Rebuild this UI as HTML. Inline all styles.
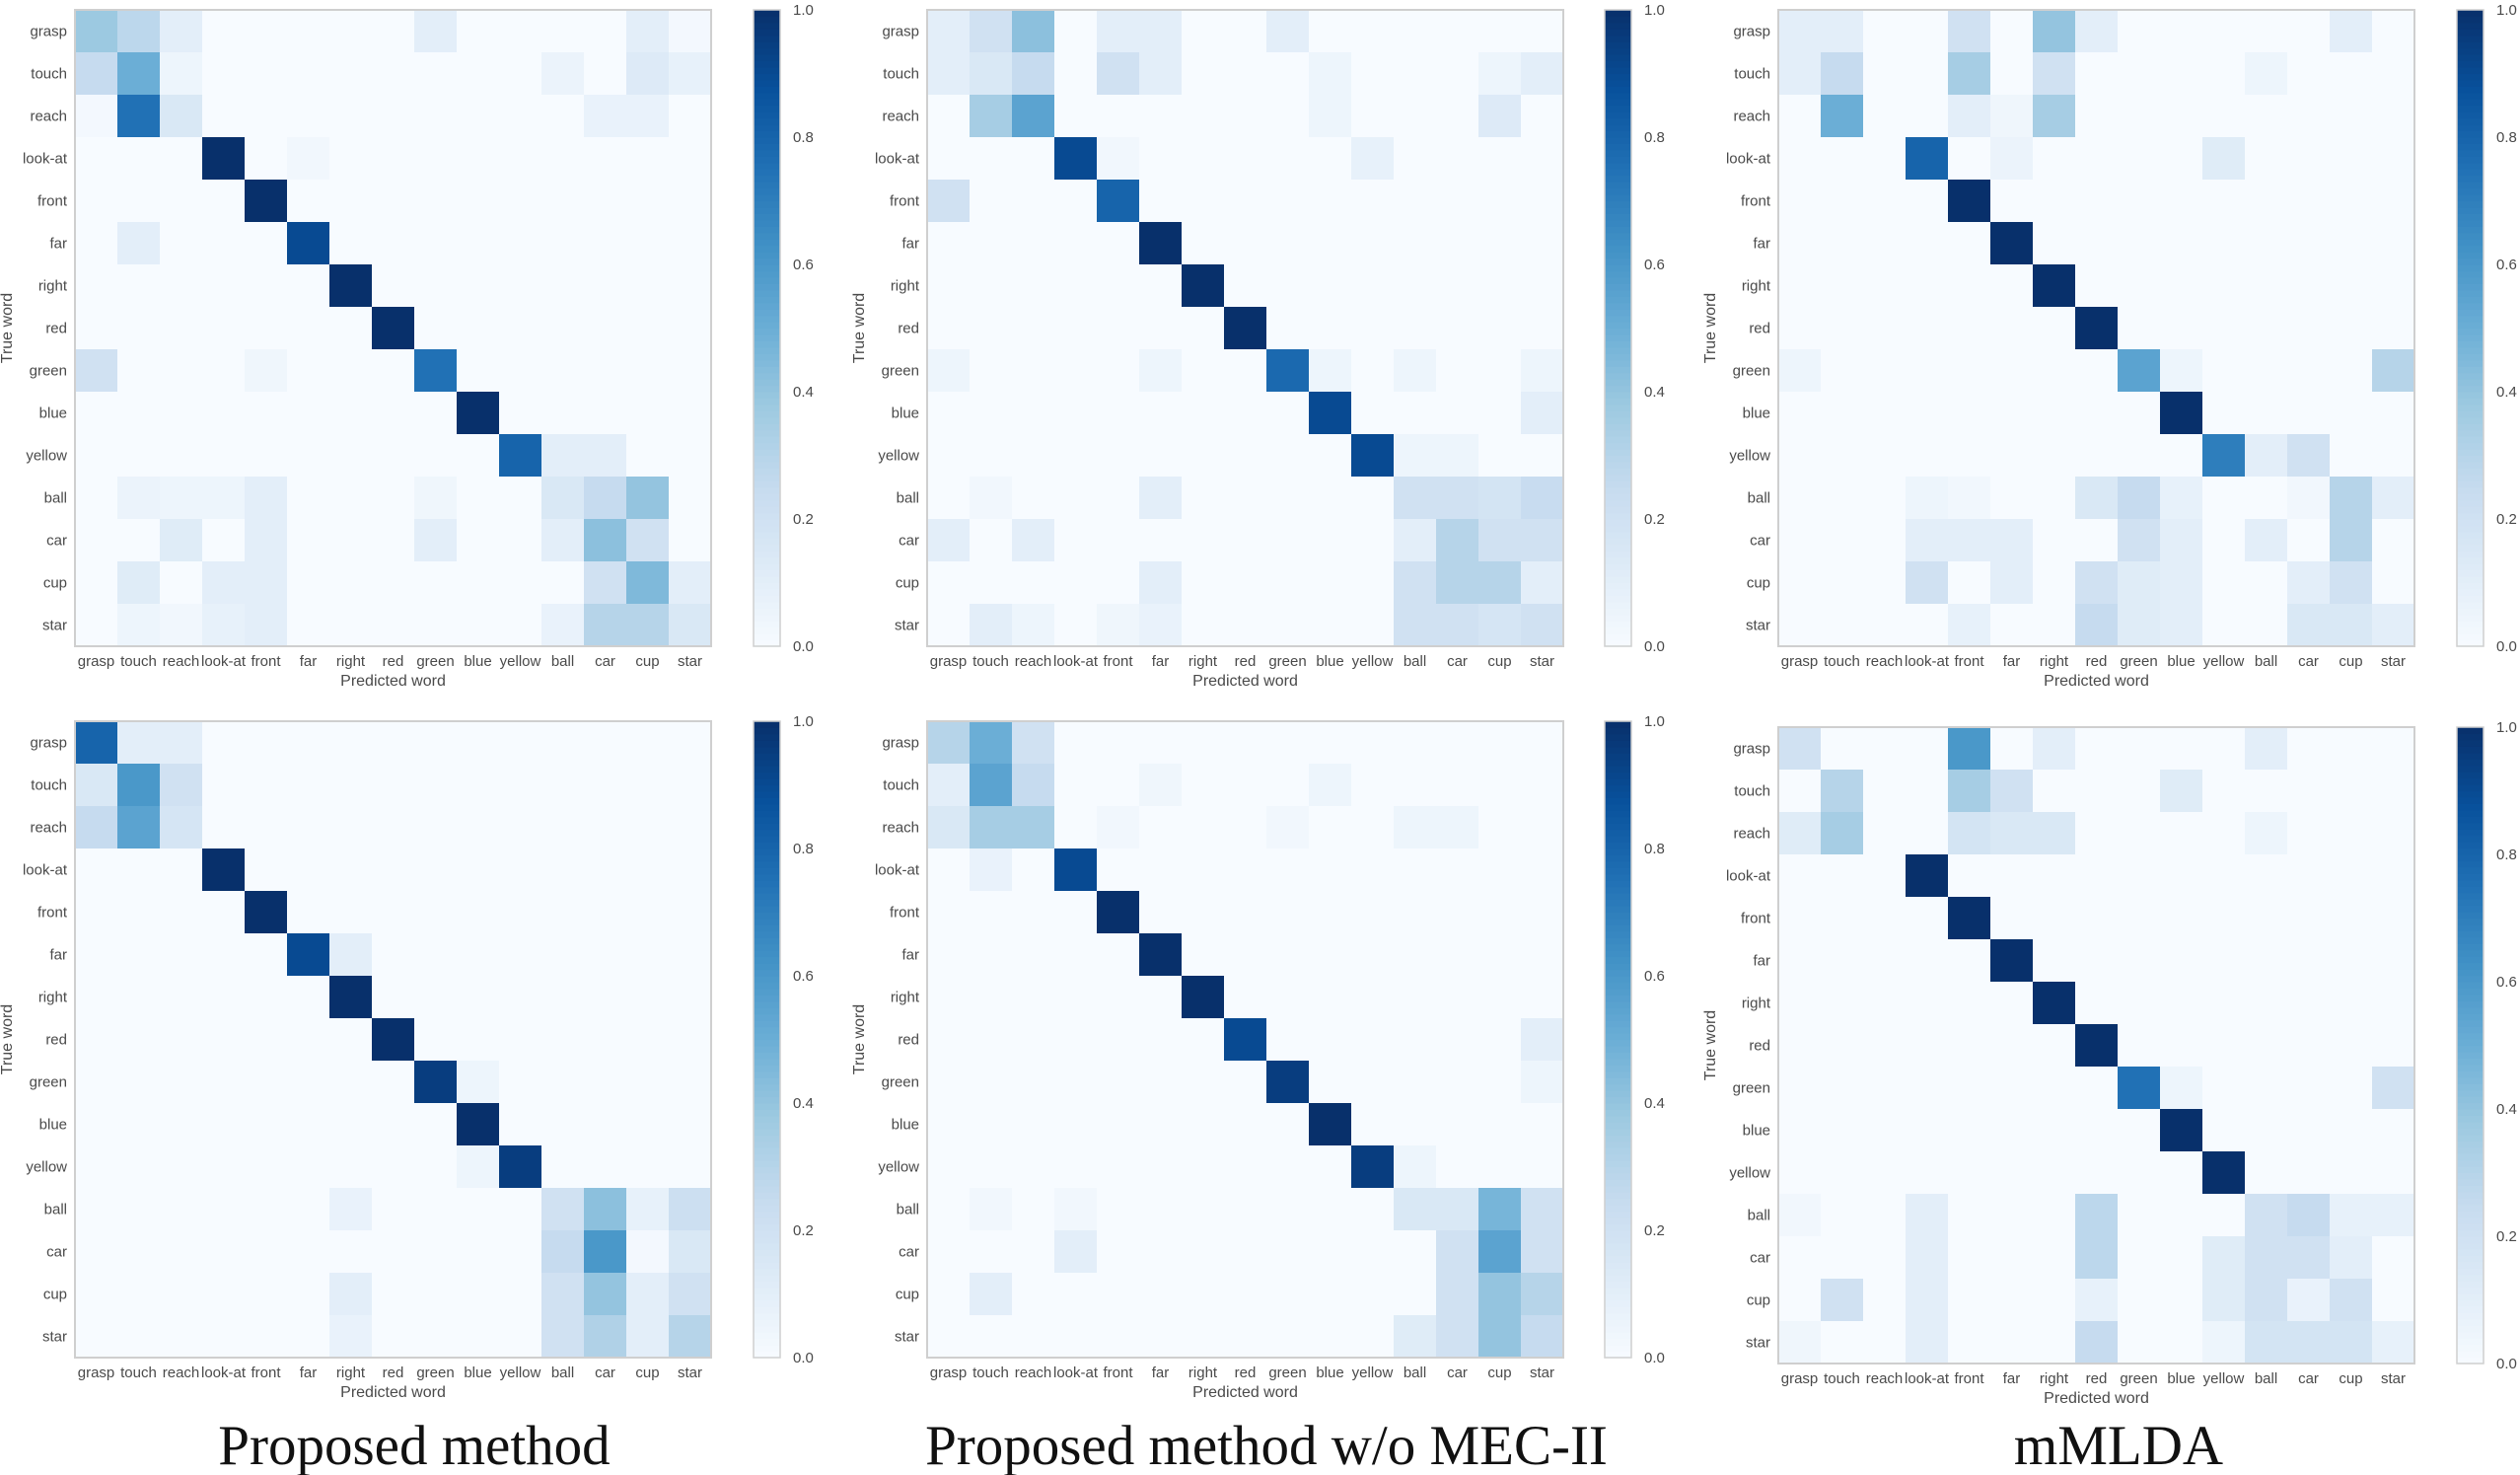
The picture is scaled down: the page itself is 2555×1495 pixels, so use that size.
<!DOCTYPE html>
<html><head><meta charset="utf-8"><style>
html,body{margin:0;padding:0;background:#fff;}
svg{display:block;}
text{font-family:"Liberation Sans",sans-serif;fill:#4a4a4a;}
.cap{font-family:"Liberation Serif",serif;fill:#111;}
</style></head><body>
<svg id="fig" width="2555" height="1495" viewBox="0 0 2555 1495"></svg>
<script>
const labels = ["grasp","touch","reach","look-at","front","far","right","red","green","blue","yellow","ball","car","cup","star"];
const colorbarTicks = [0.0,0.2,0.4,0.6,0.8,1.0];
const captions = ["Proposed method","Proposed method w/o MEC-II","mMLDA"];

const m1 = [
[.38,.28,.1,0,0,0,0,0,.1,0,0,0,0,.1,.02],
[.25,.5,.05,0,0,0,0,0,0,0,0,.06,0,.13,.08],
[.02,.75,.15,0,0,0,0,0,0,0,0,0,.07,.07,0],
[0,0,0,1,0,.03,0,0,0,0,0,0,0,0,0],
[0,0,0,0,1,0,0,0,0,0,0,0,0,0,0],
[0,.1,0,0,0,.9,0,0,0,0,0,0,0,0,0],
[0,0,0,0,0,0,1,0,0,0,0,0,0,0,0],
[0,0,0,0,0,0,0,1,0,0,0,0,0,0,0],
[.2,0,0,0,.04,0,0,0,.75,0,0,0,0,0,0],
[0,0,0,0,0,0,0,0,0,1,0,0,0,0,0],
[0,0,0,0,0,0,0,0,0,0,.8,.1,.1,0,0],
[0,.06,.05,.05,.1,0,0,0,.04,0,0,.15,.25,.4,0],
[0,0,.12,0,.1,0,0,0,.1,0,0,.1,.42,.2,0],
[0,.12,0,.1,.1,0,0,0,0,0,0,0,.2,.45,.1],
[0,.05,.03,.08,.1,0,0,0,0,0,0,.07,.3,.3,.15]];
const m2 = [
[.1,.2,.42,0,.1,.1,0,0,.1,0,0,0,0,0,0],
[.1,.15,.25,0,.2,.1,0,0,0,.05,0,0,0,.05,.1],
[0,.35,.55,0,0,0,0,0,0,.05,0,0,0,.13,0],
[0,0,0,.9,.03,0,0,0,0,0,.08,0,0,0,0],
[.2,0,0,0,.8,0,0,0,0,0,0,0,0,0,0],
[0,0,0,0,0,1,0,0,0,0,0,0,0,0,0],
[0,0,0,0,0,0,1,0,0,0,0,0,0,0,0],
[0,0,0,0,0,0,0,1,0,0,0,0,0,0,0],
[.05,0,0,0,0,.05,0,0,.78,.05,0,.05,0,0,.05],
[0,0,0,0,0,0,0,0,0,.9,0,0,0,0,.1],
[0,0,0,0,0,0,0,0,0,0,.9,.05,.05,0,0],
[0,.03,0,0,0,.1,0,0,0,0,0,.2,.2,.18,.24],
[.1,0,.1,0,0,0,0,0,0,0,0,.1,.3,.2,.2],
[0,0,0,0,0,.1,0,0,0,0,0,.2,.3,.3,.1],
[0,.1,.05,0,.04,.07,0,0,0,0,0,.2,.2,.17,.2]];
const m3 = [
[.1,.1,0,0,.2,0,.4,.1,0,0,0,0,0,.1,0],
[.1,.25,0,0,.35,0,.2,0,0,0,0,.05,0,0,0],
[0,.5,0,0,.1,.04,.35,0,0,0,0,0,0,0,0],
[0,0,0,.8,0,.06,0,0,0,0,.12,0,0,0,0],
[0,0,0,0,1,0,0,0,0,0,0,0,0,0,0],
[0,0,0,0,0,1,0,0,0,0,0,0,0,0,0],
[0,0,0,0,0,0,1,0,0,0,0,0,0,0,0],
[0,0,0,0,0,0,0,1,0,0,0,0,0,0,0],
[.05,0,0,0,0,0,0,0,.55,.05,0,0,0,0,.3],
[0,0,0,0,0,0,0,0,0,1,0,0,0,0,0],
[0,0,0,0,0,0,0,0,0,0,.7,.1,.2,0,0],
[0,0,0,.05,.03,0,0,.15,.25,.08,0,0,.03,.3,.1],
[0,0,0,.1,.1,.1,0,0,.2,.1,0,.1,0,.3,0],
[0,0,0,.2,0,.1,0,.2,.12,.1,0,0,.1,.2,0],
[0,0,0,0,.08,0,0,.25,.12,.1,0,0,.15,.15,.1]];
const m4 = [
[.8,.1,.1,0,0,0,0,0,0,0,0,0,0,0,0],
[.15,.6,.2,0,0,0,0,0,0,0,0,0,0,0,0],
[.25,.55,.17,0,0,0,0,0,0,0,0,0,0,0,0],
[0,0,0,1,0,0,0,0,0,0,0,0,0,0,0],
[0,0,0,0,1,0,0,0,0,0,0,0,0,0,0],
[0,0,0,0,0,.9,.1,0,0,0,0,0,0,0,0],
[0,0,0,0,0,0,1,0,0,0,0,0,0,0,0],
[0,0,0,0,0,0,0,1,0,0,0,0,0,0,0],
[0,0,0,0,0,0,0,0,.95,.05,0,0,0,0,0],
[0,0,0,0,0,0,0,0,0,1,0,0,0,0,0],
[0,0,0,0,0,0,0,0,0,.05,.95,0,0,0,0],
[0,0,0,0,0,0,.07,0,0,0,0,.2,.42,.08,.22],
[0,0,0,0,0,0,0,0,0,0,0,.25,.6,.02,.15],
[0,0,0,0,0,0,.1,0,0,0,0,.2,.4,.1,.2],
[0,0,0,0,0,0,.07,0,0,0,0,.2,.32,.1,.3]];
const m5 = [
[.3,.5,.2,0,0,0,0,0,0,0,0,0,0,0,0],
[.1,.55,.25,0,0,.04,0,0,0,.05,0,0,0,0,0],
[.15,.35,.35,0,.03,0,0,0,.03,0,0,.05,.05,0,0],
[0,.07,0,.9,0,0,0,0,0,0,0,0,0,0,0],
[0,0,0,0,1,0,0,0,0,0,0,0,0,0,0],
[0,0,0,0,0,1,0,0,0,0,0,0,0,0,0],
[0,0,0,0,0,0,1,0,0,0,0,0,0,0,0],
[0,0,0,0,0,0,0,.9,0,0,0,0,0,0,.1],
[0,0,0,0,0,0,0,0,.95,0,0,0,0,0,.05],
[0,0,0,0,0,0,0,0,0,1,0,0,0,0,0],
[0,0,0,0,0,0,0,0,0,0,.95,.05,0,0,0],
[0,.03,0,.03,0,0,0,0,0,0,0,.15,.15,.47,.2],
[0,0,0,.1,0,0,0,0,0,0,0,0,.2,.55,.2],
[0,.1,0,0,0,0,0,0,0,0,0,0,.2,.4,.3],
[0,0,0,0,0,0,0,0,0,0,0,.12,.2,.4,.25]];
const m6 = [
[.2,0,0,0,.6,0,.1,0,0,0,0,.1,0,0,0],
[0,.3,0,0,.35,.2,0,0,0,.12,0,0,0,0,0],
[.12,.35,0,0,.18,.15,.15,0,0,0,0,.05,0,0,0],
[0,0,0,1,0,0,0,0,0,0,0,0,0,0,0],
[0,0,0,0,1,0,0,0,0,0,0,0,0,0,0],
[0,0,0,0,0,1,0,0,0,0,0,0,0,0,0],
[0,0,0,0,0,0,1,0,0,0,0,0,0,0,0],
[0,0,0,0,0,0,0,1,0,0,0,0,0,0,0],
[0,0,0,0,0,0,0,0,.75,.05,0,0,0,0,.2],
[0,0,0,0,0,0,0,0,0,1,0,0,0,0,0],
[0,0,0,0,0,0,0,0,0,0,1,0,0,0,0],
[.03,0,0,.1,0,0,0,.28,0,0,0,.2,.25,.08,.08],
[0,0,0,.1,0,0,0,.28,0,0,.12,.2,.2,.1,0],
[0,.2,0,.1,0,0,0,.08,0,0,.12,.2,.07,.2,0],
[.04,0,0,.1,0,0,0,.25,0,0,.05,.18,.18,.18,.08]];

const NS="http://www.w3.org/2000/svg";
const svg=document.getElementById('fig');
const stops=[[247,251,255],[222,235,247],[198,219,239],[158,202,225],[107,174,214],[66,146,198],[33,113,181],[8,81,156],[8,48,107]];
function cmap(v){v=Math.max(0,Math.min(1,v));const t=v*8;const i=Math.min(7,Math.floor(t));const f=t-i;
 const a=stops[i],b=stops[i+1];return 'rgb('+a.map((c,k)=>Math.round(c+(b[k]-c)*f)).join(',')+')';}
function el(tag,attrs,parent){const e=document.createElementNS(NS,tag);for(const k in attrs)e.setAttribute(k,attrs[k]);(parent||svg).appendChild(e);return e;}

const panels=[
 {m:m1,x:76,y:10,cb:764,name:'proposed'},
 {m:m2,x:940,y:10,cb:1627,name:'without-mec2'},
 {m:m3,x:1803,y:10,cb:2491,name:'mmlda'},
 {m:m4,x:76,y:731,cb:764,name:'proposed-2'},
 {m:m5,x:940,y:731,cb:1627,name:'without-mec2-2'},
 {m:m6,x:1803,y:737,cb:2491,name:'mmlda-2'}];
const S=645, n=labels.length, cs=S/n;
function xScale(p,j){return p.x+j*cs;}
function yScale(p,i){return p.y+i*cs;}

panels.forEach(p=>{
 const g=el('g',{});
 
 
 el('rect',{x:p.x,y:p.y,width:S,height:S,fill:cmap(0)},g);
 p.m.forEach((row,i)=>row.forEach((v,j)=>{
  const r=el('rect',{x:xScale(p,j),y:yScale(p,i),width:cs+0.5,height:cs+0.5,fill:cmap(v)},g);
  
  
 }));
 el('rect',{x:p.x,y:p.y,width:S,height:S,fill:'none',stroke:'#cfcfcf','stroke-width':2},g);
 labels.forEach((l,i)=>{
  const t=el('text',{x:p.x-8,y:yScale(p,i)+cs/2+5,'text-anchor':'end','font-size':15},g);t.textContent=l;
  
  
  const u=el('text',{x:xScale(p,i)+cs/2,y:p.y+S+20,'text-anchor':'middle','font-size':15},g);u.textContent=l;
  
  
 });
 const xl=el('text',{x:p.x+S/2,y:p.y+S+40,'text-anchor':'middle','font-size':16},g);xl.textContent='Predicted word';
 
 
 const yx=p.x-64, yy=p.y+S/2;
 const yl=el('text',{x:yx,y:yy,'text-anchor':'middle','font-size':16,transform:'rotate(-90 '+yx+' '+yy+')'},g);yl.textContent='True word';
 
 
 // colorbar
 const cg=el('g',{});
 
 
 const N=100;
 for(let k=0;k<N;k++){el('rect',{x:p.cb,y:p.y+S-(k+1)*S/N,width:27,height:S/N+0.6,fill:cmap((k+0.5)/N)},cg);}
 el('rect',{x:p.cb,y:p.y,width:27,height:S,fill:'none',stroke:'#cfcfcf','stroke-width':1.5},cg);
 colorbarTicks.forEach(v=>{
  const t=el('text',{x:p.cb+40,y:p.y+S-v*S+5,'font-size':15},cg);t.textContent=v.toFixed(1);
  
  
 });
});
[420,1284,2148].forEach((cx,i)=>{
 const t=el('text',{x:cx,y:1484,'text-anchor':'middle','font-size':57,'class':'cap'});t.textContent=captions[i];
 
 
});
</script>
</body></html>
